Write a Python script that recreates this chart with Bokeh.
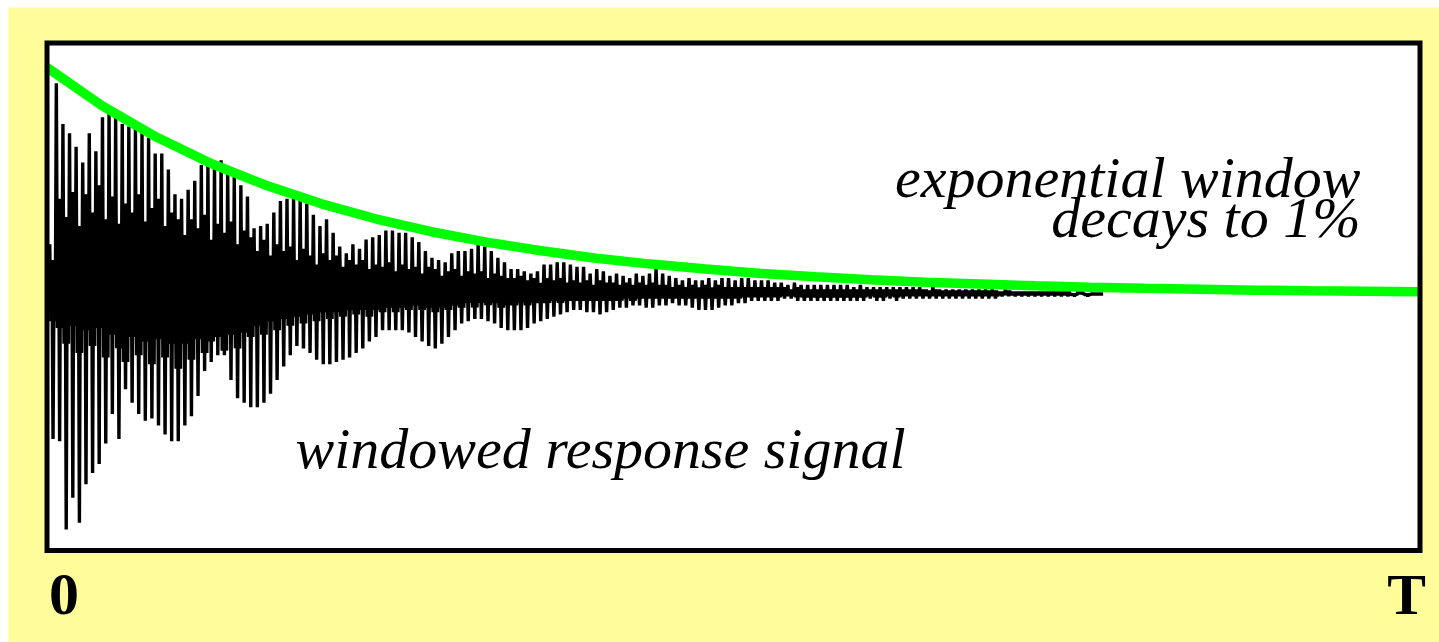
import numpy as np
from bokeh.plotting import figure
from bokeh.models import Range1d, Label
from bokeh.embed import file_html
from bokeh.resources import INLINE

# ---- data (values in % of the window's start value) ----
# exponential window, sampled along the time axis (0 .. T)
window_t = [0.00, 0.04, 0.08, 0.12, 0.16, 0.20, 0.24, 0.28, 0.32, 0.36, 0.40, 0.44, 0.48,
            0.52, 0.56, 0.60, 0.64, 0.68, 0.72, 0.76, 0.80, 0.84, 0.88, 0.92, 0.96, 1.00]
window_v = [100.0, 83.2, 69.2, 57.5, 47.9, 39.8, 33.1, 27.5, 22.9, 19.1, 15.8, 13.2, 11.0,
            9.1, 7.6, 6.3, 5.2, 4.4, 3.6, 3.0, 2.5, 2.1, 1.7, 1.4, 1.2, 1.0]

# windowed response, per oscillation period: upper peak, lower peak,
# and the top / bottom of the dense core that the fast swings fill
sig_upper = [22, 93, 75, 71, 65, 58, 71, 63, 78, 81,
             79, 75, 74, 73, 71, 69, 62, 62, 55, 44,
             42, 46, 50, 57, 57, 58, 59, 55, 52, 48,
             43, 29, 30, 31, 36, 41, 42, 42, 42, 40,
             35, 30, 33, 27, 21, 18, 22, 20, 24, 25,
             26, 28, 28, 27, 27, 25, 23, 19, 16, 15,
             14, 18, 19, 19, 20, 22, 21, 19, 16, 14,
             11, 11, 10, 9, 10, 13, 13, 14, 14, 13,
             12, 12, 9, 11, 10, 8, 9, 8, 7, 9,
             8, 9, 11, 9, 8, 7, 6, 7, 6, 6,
             7, 6, 7, 7, 6, 7, 7, 6, 6, 6,
             5, 5, 4, 5, 4, 4, 4, 4, 4, 4,
             4, 4, 3, 4, 3, 3, 3, 3, 3, 3,
             3, 3, 3, 2, 3, 2, 2, 2, 2, 2,
             2, 2, 2, 2, 1, 2, 1, 1, 1, 1,
             1, 1, 1, 1, 1, 0, 1, 0, 0, 0]
sig_lower = [-64, -65, -104, -90, -101, -84, -79, -75, -66, -53,
             -64, -42, -48, -53, -56, -55, -58, -62, -65, -65,
             -58, -54, -45, -34, -30, -27, -27, -38, -46, -48,
             -50, -50, -48, -44, -38, -32, -27, -23, -24, -26,
             -29, -31, -31, -30, -29, -28, -26, -24, -21, -19,
             -16, -16, -16, -16, -17, -19, -21, -23, -24, -22,
             -19, -16, -13, -12, -11, -11, -12, -13, -15, -16,
             -16, -16, -15, -13, -12, -11, -10, -9, -8, -7,
             -7, -8, -8, -9, -8, -7, -6, -6, -5, -5,
             -6, -6, -5, -5, -4, -5, -5, -6, -7, -7,
             -7, -6, -5, -5, -4, -4, -3, -3, -3, -3,
             -3, -2, -2, -3, -3, -3, -3, -3, -3, -3,
             -3, -3, -3, -3, -2, -3, -3, -2, -3, -2,
             -2, -2, -2, -2, -2, -2, -2, -2, -2, -2,
             -2, -2, -2, -2, -1, -1, -1, -1, -1, -1,
             -1, -1, -1, -1, -1, -1, 0, -1, 0, 0]
core_hi = [15, 42, 34, 45, 30, 44, 36, 48, 33, 43,
           31, 40, 36, 44, 32, 38, 42, 30, 36, 33,
           26, 33, 29, 35, 24, 31, 27, 32, 22, 28,
           25, 19, 24, 17, 22, 19, 21, 15, 20, 17,
           13, 18, 15, 17, 12, 15, 13, 15, 11, 13,
           12, 14, 10, 13, 11, 12, 9, 12, 11, 8,
           10, 11, 8, 10, 9, 10, 7, 9, 8, 7,
           7, 8, 6, 7, 5, 7, 6, 7, 5, 6,
           5, 6, 4, 6, 5, 5, 4, 5, 4, 5,
           4, 5, 4, 4, 3, 4, 3, 4, 3, 4,
           3, 4, 3, 3, 3, 3, 3, 3, 3, 3,
           3, 3, 2, 3, 2, 2, 2, 2, 2, 2,
           2, 2, 2, 2, 2, 2, 2, 2, 2, 2,
           2, 2, 2, 1.5, 2, 1.5, 1.5, 1.5, 1.5, 1.5,
           1.5, 1.5, 1.5, 1.5, 1, 1.5, 1, 1, 1, 1,
           1, 1, 1, 1, 1, 0, 1, 0, 0, 0]
core_lo = [-12, -15, -22, -14, -26, -16, -23, -15, -28, -18,
           -24, -30, -19, -27, -21, -31, -20, -28, -22, -33,
           -22, -29, -20, -26, -21, -19, -25, -18, -24, -17,
           -19, -14, -18, -12, -16, -11, -14, -10, -13, -9,
           -12, -8, -11, -8, -10, -7, -9, -7, -10, -7,
           -8, -6, -8, -6, -7, -5, -7, -6, -8, -6,
           -7, -5, -6, -4, -6, -4, -5, -4, -6, -5,
           -5, -4, -5, -4, -4, -4, -3, -4, -3, -3,
           -3, -3, -3, -3, -3, -3, -3, -2, -3, -2,
           -2, -2, -2, -2, -2, -2, -2, -2, -2, -2,
           -2, -2, -2, -2, -2, -1.5, -1.5, -1.5, -1.5, -1.5,
           -1.5, -1, -1, -1.5, -1.5, -1.5, -1.5, -1.5, -1.5, -1.5,
           -1.5, -1.5, -1.5, -1.5, -1, -1.5, -1.5, -1, -1.5, -1,
           -1, -1, -1, -1, -1, -1, -1, -1, -1, -1,
           -1, -1, -1, -1, -0.5, -0.5, -0.5, -0.5, -0.5, -0.5,
           -0.5, -0.5, -0.5, -0.5, -0.5, -0.5, 0, -0.5, 0, 0]
sig_period = 0.0048      # time-axis length of one oscillation period (fraction of T)
sig_start = 0.002

tick_labels = ["0", "T"]
tick_pos = [0.0, 1.0]

# plot box (time 0..T, value bounds of the drawing area)
box_t = (0.0, 1.0)
box_v = (-113.2, 110.8)

# ---- sample sequence per period: upper, core-lo, core-hi, lower, core-hi, core-lo ----
n = len(sig_upper)
sig_v = np.empty(6 * n)
sig_v[0::6] = sig_upper
sig_v[1::6] = core_lo
sig_v[2::6] = core_hi
sig_v[3::6] = sig_lower
sig_v[4::6] = core_hi
sig_v[5::6] = core_lo
sig_t = sig_start + np.arange(6 * n) * (sig_period / 6)

YELLOW = "#FFFD99"

p = figure(width=1439, height=642, output_backend="svg", toolbar_location=None,
           x_range=Range1d(-0.02804, 1.01420), y_range=Range1d(-153.86, 126.49),
           x_axis_location=None, y_axis_location=None,
           min_border_left=8, min_border_right=0, min_border_top=7, min_border_bottom=0)
p.grid.visible = False
p.background_fill_color = YELLOW
p.border_fill_color = "white"
p.outline_line_color = None

# white drawing area
p.quad(left=[box_t[0]], right=[box_t[1]], bottom=[box_v[0]], top=[box_v[1]],
       fill_color="white", line_color=None)

p.line(sig_t, sig_v, line_color="black", line_width=3.4)
p.line(window_t, window_v, line_color="#00FF00", line_width=9.5)

# black frame around the drawing area
p.quad(left=[box_t[0]], right=[box_t[1]], bottom=[box_v[0]], top=[box_v[1]],
       fill_color=None, line_color="black", line_width=5, line_join="miter")

serif = "Liberation Serif"
def lab(x, y, text, align, size, style, x_offset=0):
    p.add_layout(Label(x=x, y=y, x_offset=x_offset, text=text, text_align=align,
                       text_baseline="middle", text_font=serif, text_font_style=style,
                       text_font_size=size, text_color="black"))

lab(0.9567, 51.3, "exponential window", "right", "58px", "italic")
lab(0.9567, 33.6, "decays to 1%", "right", "58px", "italic")
lab(0.181, -68.4, "windowed response signal", "left", "58px", "italic")
lab(tick_pos[0], -132.6, tick_labels[0], "left", "60px", "bold", x_offset=2)
lab(tick_pos[1], -132.5, tick_labels[1], "right", "58px", "bold", x_offset=6)

open("out.html", "w").write(file_html(p, INLINE))
